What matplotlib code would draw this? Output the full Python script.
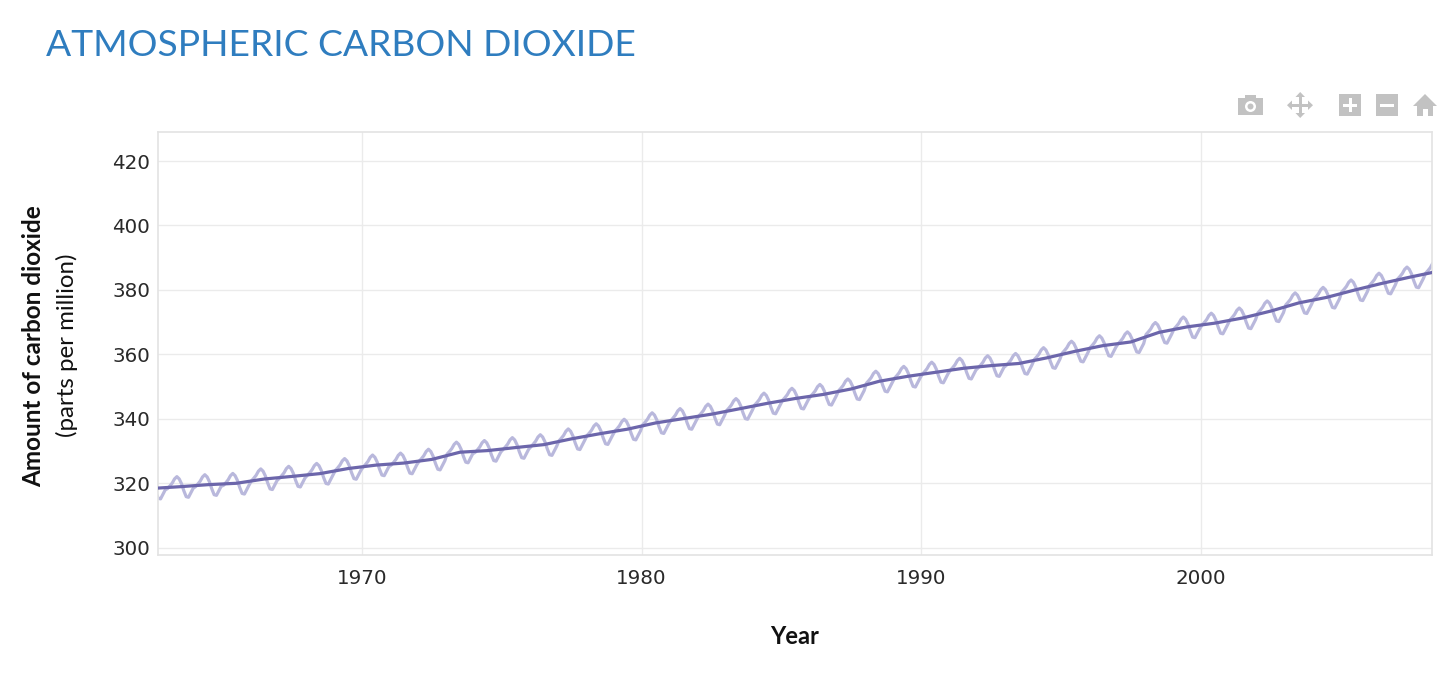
import matplotlib
matplotlib.use("Agg")
import matplotlib.pyplot as plt
from matplotlib.patches import Rectangle, Ellipse, Polygon

# ---------------- data ----------------
years = list(range(1962, 2009))
annual_mean_ppm = [
    318.45, 318.99, 319.62, 320.04, 321.37, 322.18, 323.05, 324.62, 325.68, 326.32,
    327.46, 329.68, 330.19, 331.13, 332.03, 333.84, 335.41, 336.84, 338.76, 340.12,
    341.48, 343.15, 344.85, 346.35, 347.61, 349.31, 351.69, 353.20, 354.45, 355.70,
    356.54, 357.21, 358.96, 360.97, 362.74, 363.88, 366.84, 368.54, 369.71, 371.32,
    373.45, 375.98, 377.70, 379.98, 382.09, 384.02, 385.83,
]
# monthly readings (Jan..Dec) per year
monthly_ppm = [
    [None, None, None, None, None, None, 319.4, 317.2, 315.4, 315.2, 316.6, 318.0],  # 1962
    [318.4, 319.2, 320.1, 321.4, 322.1, 321.4, 319.9, 317.7, 315.9, 315.7, 317.1, 318.5],
    [319.0, 319.8, 320.7, 322.0, 322.7, 322.0, 320.5, 318.3, 316.5, 316.3, 317.7, 319.1],
    [319.4, 320.2, 321.1, 322.4, 323.1, 322.4, 320.9, 318.7, 316.9, 316.7, 318.1, 319.5],
    [320.8, 321.6, 322.5, 323.8, 324.5, 323.8, 322.3, 320.1, 318.3, 318.1, 319.5, 320.9],
    [321.6, 322.4, 323.3, 324.6, 325.3, 324.6, 323.1, 320.9, 319.1, 318.9, 320.3, 321.7],
    [322.5, 323.3, 324.2, 325.5, 326.2, 325.5, 324.0, 321.8, 320.0, 319.8, 321.2, 322.6],
    [324.0, 324.8, 325.7, 327.0, 327.7, 327.0, 325.5, 323.3, 321.5, 321.3, 322.7, 324.1],
    [325.1, 325.9, 326.8, 328.1, 328.8, 328.1, 326.6, 324.4, 322.6, 322.4, 323.8, 325.2],
    [325.7, 326.5, 327.4, 328.7, 329.4, 328.7, 327.2, 325.0, 323.2, 323.0, 324.4, 325.8],
    [326.9, 327.7, 328.6, 329.9, 330.6, 329.9, 328.4, 326.2, 324.4, 324.2, 325.6, 327.0],
    [329.1, 329.9, 330.8, 332.1, 332.8, 332.1, 330.6, 328.4, 326.6, 326.4, 327.8, 329.2],
    [329.6, 330.4, 331.3, 332.6, 333.3, 332.6, 331.1, 328.9, 327.1, 326.9, 328.3, 329.7],
    [330.5, 331.3, 332.2, 333.5, 334.2, 333.5, 332.0, 329.8, 328.0, 327.8, 329.2, 330.6],
    [331.4, 332.2, 333.1, 334.4, 335.1, 334.4, 332.9, 330.7, 328.9, 328.7, 330.1, 331.5],
    [333.2, 334.0, 334.9, 336.2, 336.9, 336.2, 334.7, 332.5, 330.7, 330.5, 331.9, 333.3],
    [334.8, 335.6, 336.5, 337.8, 338.5, 337.8, 336.3, 334.1, 332.3, 332.1, 333.5, 334.9],
    [336.2, 337.0, 337.9, 339.2, 339.9, 339.2, 337.7, 335.5, 333.7, 333.5, 334.9, 336.3],
    [338.2, 339.0, 339.9, 341.2, 341.9, 341.2, 339.7, 337.5, 335.7, 335.5, 336.9, 338.3],
    [339.5, 340.3, 341.2, 342.5, 343.2, 342.5, 341.0, 338.8, 337.0, 336.8, 338.2, 339.6],
    [340.9, 341.7, 342.6, 343.9, 344.6, 343.9, 342.4, 340.2, 338.4, 338.2, 339.6, 341.0],
    [342.6, 343.4, 344.3, 345.6, 346.3, 345.6, 344.1, 341.9, 340.1, 339.9, 341.3, 342.7],
    [344.3, 345.1, 346.0, 347.3, 348.0, 347.3, 345.8, 343.6, 341.8, 341.6, 343.0, 344.4],
    [345.8, 346.6, 347.5, 348.8, 349.5, 348.8, 347.3, 345.1, 343.3, 343.1, 344.5, 345.9],
    [347.0, 347.8, 348.7, 350.0, 350.7, 350.0, 348.5, 346.3, 344.5, 344.3, 345.7, 347.1],
    [348.7, 349.5, 350.4, 351.7, 352.4, 351.7, 350.2, 348.0, 346.2, 346.0, 347.4, 348.8],
    [351.1, 351.9, 352.8, 354.1, 354.8, 354.1, 352.6, 350.4, 348.6, 348.4, 349.8, 351.2],
    [352.6, 353.4, 354.3, 355.6, 356.3, 355.6, 354.1, 351.9, 350.1, 349.9, 351.3, 352.7],
    [353.9, 354.7, 355.6, 356.9, 357.6, 356.9, 355.4, 353.2, 351.4, 351.2, 352.6, 354.0],
    [355.1, 355.9, 356.8, 358.1, 358.8, 358.1, 356.6, 354.4, 352.6, 352.4, 353.8, 355.2],
    [355.9, 356.7, 357.6, 358.9, 359.6, 358.9, 357.4, 355.2, 353.4, 353.2, 354.6, 356.0],
    [356.6, 357.4, 358.3, 359.6, 360.3, 359.6, 358.1, 355.9, 354.1, 353.9, 355.3, 356.7],
    [358.4, 359.2, 360.1, 361.4, 362.1, 361.4, 359.9, 357.7, 355.9, 355.7, 357.1, 358.5],
    [360.4, 361.2, 362.1, 363.4, 364.1, 363.4, 361.9, 359.7, 357.9, 357.7, 359.1, 360.5],
    [362.1, 362.9, 363.8, 365.1, 365.8, 365.1, 363.6, 361.4, 359.6, 359.4, 360.8, 362.2],
    [363.3, 364.1, 365.0, 366.3, 367.0, 366.3, 364.8, 362.6, 360.8, 360.6, 362.0, 363.4],
    [366.2, 367.0, 367.9, 369.2, 369.9, 369.2, 367.7, 365.5, 363.7, 363.5, 364.9, 366.3],
    [367.9, 368.7, 369.6, 370.9, 371.6, 370.9, 369.4, 367.2, 365.4, 365.2, 366.6, 368.0],
    [369.1, 369.9, 370.8, 372.1, 372.8, 372.1, 370.6, 368.4, 366.6, 366.4, 367.8, 369.2],
    [370.7, 371.5, 372.4, 373.7, 374.4, 373.7, 372.2, 370.0, 368.2, 368.0, 369.4, 370.8],
    [372.9, 373.7, 374.6, 375.9, 376.6, 375.9, 374.4, 372.2, 370.4, 370.2, 371.6, 373.0],
    [375.4, 376.2, 377.1, 378.4, 379.1, 378.4, 376.9, 374.7, 372.9, 372.7, 374.1, 375.5],
    [377.1, 377.9, 378.8, 380.1, 380.8, 380.1, 378.6, 376.4, 374.6, 374.4, 375.8, 377.2],
    [379.4, 380.2, 381.1, 382.4, 383.1, 382.4, 380.9, 378.7, 376.9, 376.7, 378.1, 379.5],
    [381.5, 382.3, 383.2, 384.5, 385.2, 384.5, 383.0, 380.8, 379.0, 378.8, 380.2, 381.6],
    [383.4, 384.2, 385.1, 386.4, 387.1, 386.4, 384.9, 382.7, 380.9, 380.7, 382.1, 383.5],
    [385.2, 386.0, 386.9, 388.2, 388.9, None, None, None, None, None, None, None],    # 2008
]
x_ticks = [1970, 1980, 1990, 2000]
y_ticks = [300, 320, 340, 360, 380, 400, 420]

title_text = "ATMOSPHERIC CARBON DIOXIDE"
y_label_main = "Amount of carbon dioxide"
y_label_sub = "(parts per million)"
x_label = "Year"

# ---------------- build series ----------------
mx, my = [], []
for yr, row in zip(years, monthly_ppm):
    for m, v in enumerate(row):
        if v is not None:
            mx.append(yr + (m + 0.5) / 12.0)
            my.append(v)
tx = [yr + 0.5 for yr in years]

W, H = 1456, 673
fig = plt.figure(figsize=(W / 100, H / 100), dpi=100)
fig.patch.set_facecolor("white")

ax = fig.add_axes([158 / W, 1 - 555 / H, (1432 - 158) / W, (555 - 132) / H])
ax.set_xlim(1962.7, 2008.27)
ax.set_ylim(297.8, 429)

grid_c = "#ebebeb"
ax.set_xticks(x_ticks)
ax.set_yticks(y_ticks)
ax.grid(True, color=grid_c, linewidth=1.0)
ax.set_axisbelow(True)
for s in ax.spines.values():
    s.set_color("#e3e3e3")
    s.set_linewidth(1.2)
ax.tick_params(axis="both", length=0, labelsize=14.3, labelcolor="#2a2a2a")
ax.tick_params(axis="y", pad=5.5)
ax.tick_params(axis="x", pad=10)
for lab in ax.get_xticklabels() + ax.get_yticklabels():
    lab.set_family("DejaVu Sans")

ax.plot(mx, my, color="#b9b8dc", linewidth=2.3, solid_joinstyle="round", zorder=2)
ax.plot(tx, annual_mean_ppm, color="#6c66ab", linewidth=2.3, zorder=3)

# ---------------- text ----------------
def fx(px):
    return px / W

def fy(py):
    return 1 - py / H

fig.text(fx(46), fy(56), title_text, color="#2f7dbf", fontsize=26.8,
         family="Lato", ha="left", va="baseline")
fig.text(fx(34), fy(346), y_label_main, rotation=90, ha="center", va="center",
         fontsize=17.5, fontweight="bold", family="Lato", color="#111111")
fig.text(fx(67), fy(345), y_label_sub, rotation=90, ha="center", va="center",
         fontsize=17.3, family="Lato", color="#111111")
fig.text(fx(795), fy(637), x_label, ha="center", va="center",
         fontsize=17, fontweight="bold", family="Lato", color="#111111")

# ---------------- toolbar icons ----------------
ic = "#c2c2c2"
T = fig.transFigure

def rect(x0, y0, x1, y1, color):
    fig.add_artist(Rectangle((fx(x0), fy(y1)), (x1 - x0) / W, (y1 - y0) / H,
                             transform=T, facecolor=color, edgecolor="none"))

def tri(pts, color):
    fig.add_artist(Polygon([(fx(p[0]), fy(p[1])) for p in pts], closed=True,
                           transform=T, facecolor=color, edgecolor="none"))

# camera
rect(1238, 98, 1263, 115, ic)
rect(1245, 95, 1256, 99, ic)
fig.add_artist(Ellipse((fx(1250.5), fy(106.5)), 11 / W, 11 / H, transform=T,
                       facecolor="white", edgecolor="none"))
fig.add_artist(Ellipse((fx(1250.5), fy(106.5)), 6 / W, 6 / H, transform=T,
                       facecolor=ic, edgecolor="none"))
# move arrows
rect(1291, 104, 1309, 106.5, ic)
rect(1299, 96, 1301.5, 114, ic)
tri([(1287, 105.2), (1292, 100.5), (1292, 110)], ic)
tri([(1313, 105.2), (1308, 100.5), (1308, 110)], ic)
tri([(1300.2, 92), (1295.5, 97), (1305, 97)], ic)
tri([(1300.2, 118), (1295.5, 113), (1305, 113)], ic)
# zoom in / out
rect(1339, 94, 1361, 116, ic)
rect(1343, 103.5, 1357, 106.5, "white")
rect(1348.5, 98, 1351.5, 112, "white")
rect(1376, 94, 1398, 116, ic)
rect(1380, 103.5, 1394, 106.5, "white")
# home
tri([(1413, 106), (1425, 94), (1437, 106)], ic)
rect(1417, 104, 1433, 116, ic)
rect(1422.5, 109, 1427.5, 116, "white")

fig.savefig("out.png", dpi=100, facecolor="white")
